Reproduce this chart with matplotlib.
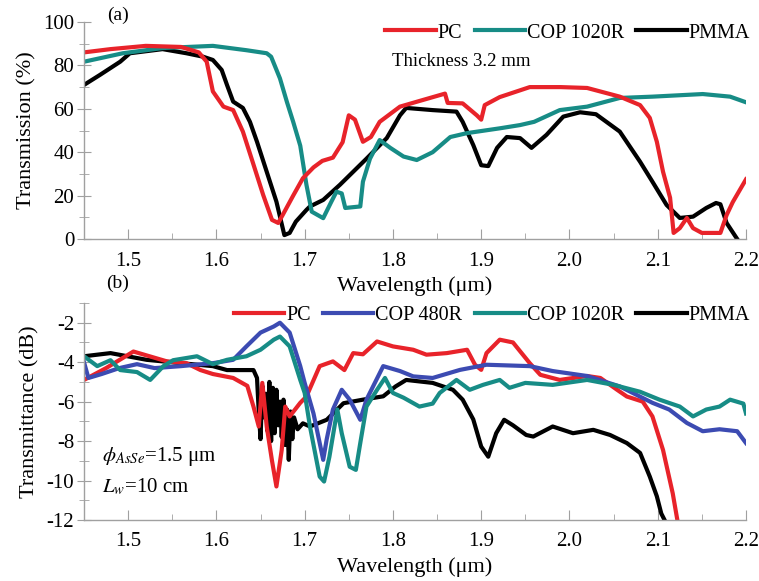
import numpy as np
import matplotlib
matplotlib.use("Agg")
import matplotlib.pyplot as plt
from matplotlib.ticker import MultipleLocator

plt.rcParams['font.family'] = ['Liberation Serif', 'DejaVu Serif']
plt.rcParams['mathtext.fontset'] = 'stix'

# (a) transmission of 3.2 mm plates
pc_a_x = [1.45, 1.48, 1.52, 1.56, 1.58, 1.589, 1.596, 1.608, 1.619, 1.63, 1.641, 1.653, 1.663, 1.67,
          1.675, 1.687, 1.698, 1.71, 1.72, 1.732, 1.743, 1.75, 1.757, 1.766, 1.775, 1.785, 1.808, 1.83,
          1.859, 1.862, 1.879, 1.895, 1.9, 1.904, 1.921, 1.955, 1.99, 2.02, 2.057, 2.08, 2.091, 2.099,
          2.106, 2.114, 2.118, 2.125, 2.133, 2.14, 2.15, 2.171, 2.178, 2.185, 2.2]
pc_a_y = [86, 87.5, 89, 88.5, 86, 81.7, 68, 61, 59.4, 49.5, 35.6, 20.3, 8.8, 7.4,
          11, 20, 28, 33, 36, 37.5, 44.6, 57, 55, 44.8, 47, 54, 61, 63.6,
          67, 62.7, 62.5, 57, 55, 61.7, 65.4, 70, 70, 69.6, 65.6, 61.7, 55.8, 44.8,
          31, 19, 2.8, 5, 9.7, 5, 2.8, 2.8, 11, 17, 27.5]

cop1020_a_x = [1.45, 1.494, 1.539, 1.596, 1.634, 1.657, 1.662, 1.672, 1.68, 1.687, 1.695, 1.702, 1.708,
               1.721, 1.73, 1.736, 1.742, 1.746, 1.763, 1.766, 1.774, 1.785, 1.797, 1.812, 1.827, 1.845,
               1.865, 1.884, 1.921, 1.944, 1.96, 1.989, 2.02, 2.057, 2.094, 2.151, 2.182, 2.2]
cop1020_a_y = [81.7, 85.6, 88, 89, 87, 85.6, 84, 74, 63, 54, 43, 25, 12.6,
               9.6, 17, 21.8, 21, 14.3, 15, 26.4, 37, 45.6, 42, 38, 36.4, 40,
               47, 48.8, 51, 52.5, 54, 59.4, 61, 65, 65.6, 66.8, 65.6, 63]

pmma_a_x = [1.45, 1.468, 1.491, 1.502, 1.539, 1.566, 1.585, 1.596, 1.606, 1.612, 1.619, 1.63, 1.638,
            1.646, 1.657, 1.668, 1.677, 1.683, 1.69, 1.702, 1.706, 1.721, 1.74, 1.77, 1.793, 1.808,
            1.815, 1.845, 1.872, 1.879, 1.891, 1.9, 1.908, 1.918, 1.929, 1.944, 1.957, 1.974, 1.993,
            2.012, 2.03, 2.057, 2.08, 2.094, 2.11, 2.125, 2.14, 2.155, 2.166, 2.171, 2.178, 2.19]
pmma_a_y = [71, 75.6, 81.7, 85.6, 87.5, 85.6, 84, 82.5, 77.9, 71, 63.3, 60.4, 54,
            44.8, 31, 17.2, 1.8, 2.8, 8, 13.4, 15, 18, 25, 37, 46.5, 57,
            60.4, 59.4, 58.7, 54, 43.3, 34, 33.6, 42, 47, 46.5, 42, 48, 56.4,
            58.4, 57.5, 49.5, 35.6, 26.4, 15.7, 9.7, 10.3, 14.3, 16.6, 16, 7.4, 0]

# (b) fiber transmittance
pc_b_x = [1.45, 1.475, 1.506, 1.544, 1.566, 1.582, 1.596, 1.619, 1.635, 1.642, 1.648, 1.652, 1.657,
          1.663, 1.668, 1.674, 1.678, 1.683, 1.695, 1.702, 1.717, 1.732, 1.745, 1.755, 1.766, 1.782,
          1.8, 1.823, 1.838, 1.861, 1.884, 1.893, 1.9, 1.906, 1.921, 1.936, 1.955, 1.967, 1.989, 2.02,
          2.035, 2.054, 2.065, 2.083, 2.094, 2.106, 2.117, 2.123]
pc_b_y = [-4.9, -4.3, -3.46, -3.96, -4.05, -4.4, -4.6, -4.8, -5.2, -6.25, -7.26, -5.05, -7.26,
          -9.0, -10.3, -8.45, -6.25, -6.75, -6.06, -5.74, -4.2, -3.96, -4.4, -3.54, -3.6, -2.95,
          -3.2, -3.37, -3.62, -3.54, -3.37, -4.13, -4.39, -3.54, -2.86, -3.0, -4.05, -4.64, -4.9, -4.7,
          -4.8, -5.4, -5.74, -6.0, -6.75, -8.45, -10.65, -12.2]

cop480_b_x = [1.45, 1.455, 1.47, 1.49, 1.51, 1.53, 1.56, 1.596, 1.619, 1.634, 1.65, 1.665, 1.672,
              1.683, 1.695, 1.70, 1.71, 1.721, 1.725, 1.732, 1.742, 1.751, 1.763, 1.77, 1.789, 1.808,
              1.823, 1.845, 1.876, 1.906, 1.955, 1.981, 2.02, 2.057, 2.094, 2.113, 2.133, 2.151, 2.17,
              2.19, 2.2]
cop480_b_y = [-4.0, -4.8, -4.6, -4.3, -4.1, -4.3, -4.2, -4.05, -3.88, -3.2, -2.5, -2.19, -2.0,
              -2.5, -4.2, -5.05, -6.6, -8.95, -7.9, -6.4, -5.4, -5.9, -6.92, -5.9, -4.2, -4.45,
              -4.72, -4.8, -4.39, -4.13, -4.2, -4.45, -4.7, -5.23, -6.06, -6.4, -7.08, -7.5, -7.4,
              -7.5, -8.1]

cop1020_b_x = [1.45, 1.465, 1.48, 1.491, 1.51, 1.525, 1.54, 1.551, 1.578, 1.596, 1.612, 1.634, 1.65,
               1.665, 1.672, 1.683, 1.695, 1.70, 1.706, 1.717, 1.722, 1.728, 1.737, 1.742, 1.751, 1.758,
               1.763, 1.77, 1.782, 1.791, 1.80, 1.812, 1.83, 1.845, 1.853, 1.872, 1.887, 1.902, 1.921,
               1.932, 1.95, 1.981, 2.02, 2.05, 2.08, 2.102, 2.125, 2.14, 2.155, 2.17, 2.182, 2.197, 2.2]
cop1020_b_y = [-3.7, -4.2, -3.9, -4.4, -4.5, -4.9, -4.2, -3.9, -3.7, -4.1, -3.88, -3.7, -3.37,
               -2.86, -2.7, -3.2, -4.9, -5.56, -7.26, -9.8, -10.05, -8.8, -6.4, -7.6, -9.3, -9.46,
               -8.1, -6.25, -5.4, -4.8, -5.56, -5.8, -6.25, -6.1, -5.56, -4.9, -5.4, -5.15, -4.9,
               -5.3, -5.05, -5.15, -4.9, -5.15, -5.5, -5.9, -6.25, -6.75, -6.4, -6.25, -5.9, -6.1, -6.6]

pmma_b_x = [1.45, 1.48, 1.521, 1.56, 1.596, 1.612, 1.642, 1.646, 1.648, 1.650, 1.652, 1.654, 1.656,
            1.658, 1.660, 1.662, 1.664, 1.666, 1.668, 1.670, 1.672, 1.674, 1.676, 1.678, 1.680, 1.682,
            1.684, 1.686, 1.688, 1.692, 1.698, 1.706, 1.725, 1.744, 1.766,
            1.789, 1.803, 1.815, 1.845, 1.868, 1.879, 1.891, 1.9, 1.908, 1.917, 1.926, 1.936, 1.951,
            1.959, 1.981, 2.004, 2.027, 2.046, 2.065, 2.08, 2.091, 2.099, 2.104, 2.11]
pmma_b_y = [-3.7, -3.54, -3.88, -4.05, -4.2, -4.4, -4.4, -4.8, -6.5, -7.9, -5.2, -6.8, -5.6,
            -7.5, -5.0, -8.0, -5.3, -7.6, -5.4, -7.2, -6.0, -7.8, -5.9, -8.2, -6.4, -8.95,
            -6.5, -7.9, -6.8, -7.4, -7.1, -7.26, -6.92, -6.08, -5.9,
            -5.73, -5.23, -4.9, -5.05, -5.4, -5.9, -6.9, -8.28, -8.79, -7.6, -6.92, -7.2, -7.69,
            -7.77, -7.26, -7.6, -7.43, -7.69, -8.1, -8.6, -9.8, -10.8, -11.67, -12.2]

RED = '#e8232a'
TEAL = '#178c86'
BLUE = '#3c4bb2'
BLACK = '#000000'
LW = 3.0

W, H = 759, 581
fig = plt.figure(figsize=(W / 100, H / 100), dpi=100)
axa = fig.add_axes([84 / W, 1 - 239 / H, (746 - 84) / W, (239 - 22) / H])
axb = fig.add_axes([84 / W, 1 - 520 / H, (746 - 84) / W, (520 - 303) / H])


def style(ax):
    for s in ['top', 'right']:
        ax.spines[s].set_visible(False)
    for s in ['left', 'bottom']:
        ax.spines[s].set_color('#a0a0a0')
        ax.spines[s].set_linewidth(1.0)
    ax.set_xlim(1.45, 2.2)
    ax.xaxis.set_major_locator(MultipleLocator(0.1))
    ax.xaxis.set_minor_locator(MultipleLocator(0.05))
    ax.tick_params(axis='x', which='both', direction='in', color='#a0a0a0', labelsize=15, pad=9)
    ax.tick_params(axis='x', which='major', length=7)
    ax.tick_params(axis='x', which='minor', length=4)
    ax.tick_params(axis='y', which='both', direction='inout', color='#a0a0a0', labelsize=15, pad=2)
    ax.tick_params(axis='y', which='major', length=10)
    ax.tick_params(axis='y', which='minor', length=7)
    ax.set_xticks([1.5, 1.6, 1.7, 1.8, 1.9, 2.0, 2.1, 2.2])
    ax.set_xticklabels(['1.5', '1.6', '1.7', '1.8', '1.9', '2.0', '2.1', '2.2'])
    ax.set_xlabel('Wavelength (\u03bcm)', fontsize=16, labelpad=4)


# panel (a)
l_pmma, = axa.plot(pmma_a_x, pmma_a_y, color=BLACK, lw=LW)
l_cop, = axa.plot(cop1020_a_x, cop1020_a_y, color=TEAL, lw=LW)
l_pc, = axa.plot(pc_a_x, pc_a_y, color=RED, lw=LW)
style(axa)
axa.set_ylim(0, 100)
axa.yaxis.set_major_locator(MultipleLocator(20))
axa.yaxis.set_minor_locator(MultipleLocator(10))
axa.set_ylabel('Transmission (%)', fontsize=16, labelpad=5)
axa.legend([l_pc, l_cop, l_pmma], ['PC', 'COP 1020R', 'PMMA'], ncol=3, frameon=False,
           loc='center right', bbox_to_anchor=(750 / W, 1 - 33 / H), bbox_transform=fig.transFigure,
           fontsize=14.5, handlelength=2.5, handletextpad=0.1, columnspacing=0.6,
           borderpad=0, borderaxespad=0)
fig.text(392 / W, 1 - 62 / H, 'Thickness 3.2 mm', fontsize=13.5, va='center', ha='left')
fig.text(118 / W, 1 - 15 / H, '(a)', fontsize=14, va='center', ha='center')

# panel (b)
m_pmma, = axb.plot(pmma_b_x, pmma_b_y, color=BLACK, lw=LW)
m_pc, = axb.plot(pc_b_x, pc_b_y, color=RED, lw=LW)
m_480, = axb.plot(cop480_b_x, cop480_b_y, color=BLUE, lw=LW)
m_1020, = axb.plot(cop1020_b_x, cop1020_b_y, color=TEAL, lw=LW)
style(axb)
axb.set_ylim(-12, -1)
axb.set_yticks([-12, -10, -8, -6, -4, -2])
axb.set_yticklabels(['-12', '-10', '-8', '-6', '-4', '-2'])
axb.yaxis.set_minor_locator(MultipleLocator(1))
axb.set_ylabel('Transmittance (dB)', fontsize=16, labelpad=5)
axb.legend([m_pc, m_480, m_1020, m_pmma], ['PC', 'COP 480R', 'COP 1020R', 'PMMA'], ncol=4,
           frameon=False, loc='center right', bbox_to_anchor=(750 / W, 1 - 315 / H),
           bbox_transform=fig.transFigure, fontsize=14.5, handlelength=2.5, handletextpad=0.1,
           columnspacing=0.6, borderpad=0, borderaxespad=0)
fig.text(118 / W, 1 - 283 / H, '(b)', fontsize=14, va='center', ha='center')
fig.text(102 / W, 1 - 457 / H, '$\\phi_{AsSe}$=1.5 \u03bcm', fontsize=15, va='center', ha='left')
fig.text(102 / W, 1 - 487 / H, '$L_w$=10 cm', fontsize=15, va='center', ha='left')

fig.savefig('out.png', dpi=100)
